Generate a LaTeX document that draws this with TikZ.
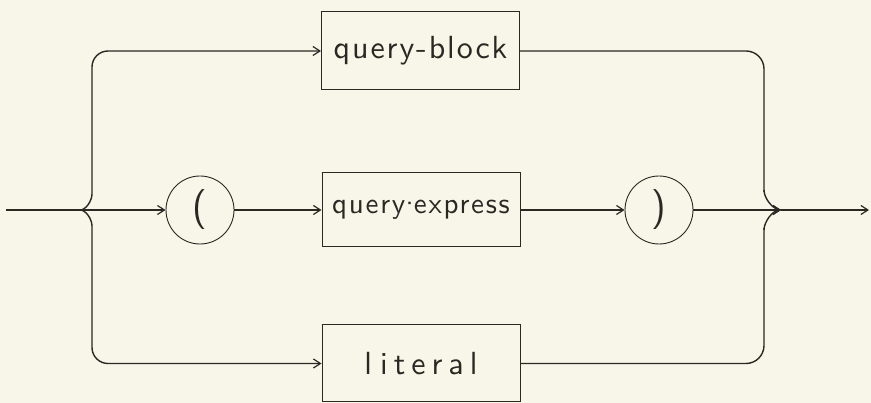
\documentclass[tikz,border=0pt]{standalone}
\usepackage{fontspec}
\usetikzlibrary{arrows.meta}
\newfontfamily\hand{lmsans10-regular.otf}[LetterSpace=6]
\definecolor{paper}{HTML}{F8F6E9}
\definecolor{ink}{HTML}{2B2824}
\begin{document}
\begin{tikzpicture}[x=1pt,y=-1pt,
  every node/.style={font=\hand\fontsize{32}{32}\selectfont, text=ink},
  termbox/.style={draw=ink, line width=1pt, rectangle, minimum width=198pt, inner sep=0pt},
  termcirc/.style={draw=ink, line width=0.9pt, circle, minimum size=68pt, inner sep=0pt, font=\sffamily\fontsize{40}{40}\selectfont},
  conn/.style={draw=ink, line width=1.4pt},
  arr/.style={conn, -{Straight Barb[length=7pt,width=9pt,line width=1.2pt]}}]
\fill[paper] (0,0) rectangle (871,403);
\useasboundingbox (0,0) rectangle (871,403);
% nodes
\node[termbox, minimum height=78pt] (qb) at (420.5,51) {query-block};
\node[termbox, minimum height=74pt] (qe) at (421,210) {\fontsize{29}{29}\selectfont query\kern-7pt·\kern-7pt express};
\node[termbox, minimum height=77pt] (lit) at (421,363.5) {l\hspace{8pt}i\hspace{6pt}t\hspace{6pt}e\hspace{6pt}r\hspace{6pt}a\hspace{6pt}l};
\node[termcirc] (lp) at (200,210) {(};
\node[termcirc] (rp) at (659,210) {)};
\coordinate (start) at (6,210);
\coordinate (jl) at (80,210);
\coordinate (jr) at (781,210);
\coordinate (end) at (869,210);
% left fork
\draw[conn] (start) -- (jl);
\draw[arr] (jl) -- (lp.west);
\draw[arr] (jl) to[out=0,in=-90,looseness=0.8] (92,194) -- (92,193) [rounded corners=16pt] |- (qb.west);
\draw[arr] (jl) to[out=0,in=90,looseness=0.8] (92,226) -- (92,227) [rounded corners=16pt] |- (lit.west);
% middle row
\draw[arr] (lp.east) -- (qe.west);
\draw[arr] (qe.east) -- (rp.west);
\draw[arr] (rp.east) -- (jr);
% right join
\draw[conn, rounded corners=18pt] (qb.east) -| (764,192);
\draw[conn] (764,190) to[out=-90,in=180,looseness=0.8] (jr);
\draw[conn, rounded corners=18pt] (lit.east) -| (764,228);
\draw[arr] (764,230) to[out=90,in=180,looseness=0.8] (jr);
\draw[arr] (jr) -- (end);
\end{tikzpicture}
\end{document}
